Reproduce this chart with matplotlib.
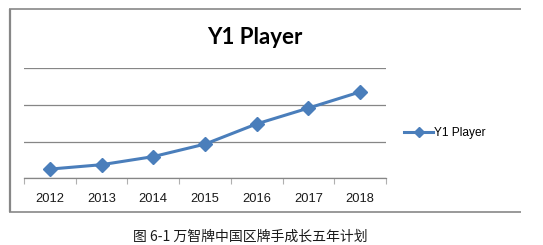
import matplotlib
matplotlib.use("Agg")
import matplotlib.pyplot as plt
from matplotlib.lines import Line2D

years = ["2012", "2013", "2014", "2015", "2016", "2017", "2018"]
values = [0.25, 0.37, 0.59, 0.93, 1.48, 1.91, 2.35]
series_name = "Y1 Player"
title = "Y1 Player"
caption = "图 6-1 万智牌中国区牌手成长五年计划"

W, H = 543, 245
fig = plt.figure(figsize=(W / 100, H / 100), dpi=100)

def fx(px):
    return px / W

def fy(py):
    return 1 - py / H

# outer chart frame (left, top, bottom)
frame_col = "#878787"
fig.add_artist(Line2D([fx(10), fx(10)], [fy(9.5), fy(212)], color=frame_col, lw=1.6,
                      transform=fig.transFigure, solid_capstyle="butt"))
fig.add_artist(Line2D([fx(9.2), fx(521)], [fy(9.5), fy(9.5)], color=frame_col, lw=1.2,
                      transform=fig.transFigure, solid_capstyle="butt"))
fig.add_artist(Line2D([fx(9.2), fx(521)], [fy(212), fy(212)], color=frame_col, lw=1.2,
                      transform=fig.transFigure, solid_capstyle="butt"))

# plot area: x 24..386, y 68..178.3
ax = fig.add_axes([fx(24), fy(178.3), fx(386) - fx(24), (178.3 - 68) / H])
x = list(range(len(years)))
line_col = "#4A7EBB"
ax.plot(x, values, color=line_col, lw=2.2, marker="D", markersize=7,
        markerfacecolor=line_col, markeredgecolor=line_col, label=series_name, zorder=3)

ax.set_xlim(-0.5, len(years) - 0.5)
ax.set_ylim(0, 3)
ax.set_yticks([0, 1, 2, 3])
ax.set_yticklabels([])
ax.tick_params(axis="y", length=0)
ax.grid(axis="y", color="#868686", lw=0.9)
ax.set_axisbelow(True)
for s in ["left", "right", "top"]:
    ax.spines[s].set_visible(False)
ax.spines["bottom"].set_color("#868686")
ax.spines["bottom"].set_linewidth(0.9)

ax.set_xticks([i - 0.5 for i in range(len(years) + 1)], minor=False)
ax.set_xticklabels([])
ax.tick_params(axis="x", which="major", length=4, color="#B0B0B0", width=0.8)
ax.set_xticks(x, minor=True)
ax.set_xticklabels(years, minor=True, fontsize=9.3, family="Liberation Sans", color="#1a1a1a")
ax.tick_params(axis="x", which="minor", length=0, pad=10.5)

fig.text(fx(255), fy(37), title, ha="center", va="center", fontsize=16,
         fontweight="bold", family="Lato", color="#000000")

leg = fig.legend(handles=ax.get_lines(), loc="center left", bbox_to_anchor=(fx(404), fy(133)),
                 frameon=False, handlelength=2.45, handletextpad=0.1,
                 borderaxespad=0, borderpad=0, prop={"family": "Liberation Sans", "size": 8.6})
for line in leg.get_lines():
    line.set_markersize(5)

fig.text(fx(250), fy(237), caption, ha="center", va="center", fontsize=10,
         family=["Noto Sans CJK SC", "DejaVu Sans"], color="#1a1a1a")

fig.savefig("out.png", dpi=100)
